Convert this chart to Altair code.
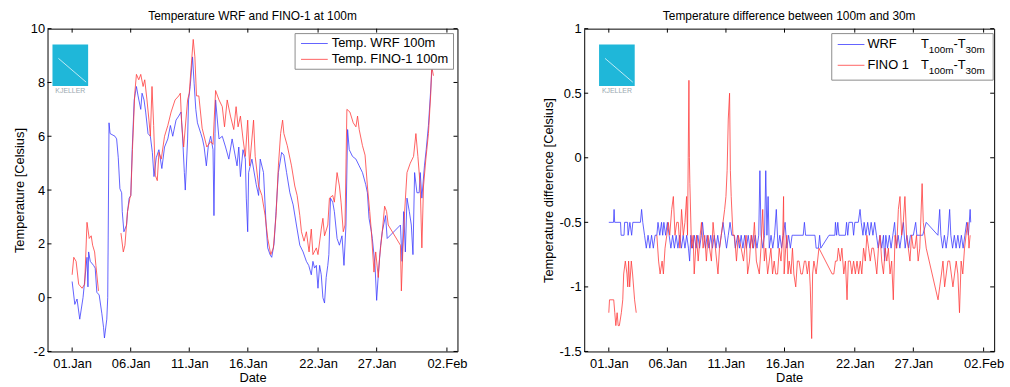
import altair as alt
import pandas as pd

# ---------------- tick values / labels ----------------
x_tick_days = [0, 5, 10, 15, 21, 26, 32]
x_tick_labels = ["01.Jan", "06.Jan", "11.Jan", "16.Jan", "22.Jan", "27.Jan", "02.Feb"]
left_y_ticks = [-2, 0, 2, 4, 6, 8, 10]
right_y_ticks = [-1.5, -1, -0.5, 0, 0.5, 1]

# ---------------- left panel: temperature at 100 m ----------------
wrf_t_day = [0.00, 0.23, 0.42, 0.65, 0.93, 1.27, 1.35, 1.41, 1.55, 1.83, 1.97, 2.11, 2.31, 2.54, 2.68, 2.76,
             2.96, 3.04, 3.15, 3.24, 3.66, 3.80, 3.94, 4.08, 4.23, 4.28, 4.42, 4.65, 4.73, 4.87, 5.01, 5.13,
             5.30, 5.49, 5.63, 5.86, 5.97, 6.14, 6.28, 6.48, 6.68, 6.85, 6.99, 7.18, 7.41, 7.66, 7.89, 8.17,
             8.39, 8.59, 8.87, 9.10, 9.30, 9.44, 9.58, 9.66, 9.86, 9.94, 10.08, 10.28, 10.42, 10.56, 10.70,
             10.99, 11.13, 11.27, 11.46, 11.63, 11.83, 12.03, 12.11, 12.20, 12.25, 12.54, 12.82, 13.10, 13.38,
             13.66, 14.08, 14.23, 14.37, 14.59, 14.79, 14.87, 14.99, 15.07, 15.35, 15.72, 15.92, 16.06, 16.34,
             16.56, 16.70, 16.90, 17.04, 17.24, 17.41, 17.61, 17.89, 18.08, 18.31, 18.59, 18.87, 19.15, 19.44,
             19.72, 20.00, 20.20, 20.42, 20.56, 20.70, 20.85, 20.99, 21.13, 21.27, 21.41, 21.55, 21.69, 21.83,
             21.92, 22.06, 22.25, 22.39, 22.62, 22.82, 23.04, 23.21, 23.38, 23.52, 23.66, 23.94, 24.23, 24.51,
             24.79, 25.07, 25.21, 25.35, 25.55, 25.63, 25.86, 26.00, 26.14, 26.34, 26.48, 26.76, 26.90, 28.03,
             28.17, 28.31, 28.45, 28.59, 28.79, 28.96, 29.10, 29.24, 29.44, 29.63, 29.72, 29.86, 30.08, 30.23,
             30.42, 30.56, 30.70, 30.76]
wrf_t_val = [0.6, -0.25, -0.05, -0.8, 0.0, 1.5, 0.4, 1.7, 1.35, 1.2, 1.1, 0.2, 0.1, -0.6, -1.1, -1.5,
             -0.8, 0.0, 6.5, 6.1, 6.0, 5.9, 5.2, 4.05, 3.9, 3.2, 2.45, 2.7, 3.2, 3.7, 3.8, 5.5,
             7.35, 7.85, 7.5, 7.0, 7.6, 7.35, 6.9, 6.1, 6.0, 5.4, 4.5, 5.2, 5.5, 4.8, 5.6, 5.9,
             6.4, 6.0, 6.6, 6.75, 6.9, 5.9, 4.65, 4.0, 5.9, 7.35, 7.85, 8.95, 7.95, 7.0, 6.5,
             6.1, 5.9, 5.6, 4.9, 5.65, 6.0, 5.5, 3.05, 6.1, 7.35, 5.9, 6.0, 5.6, 5.15,
             5.9, 4.9, 5.6, 4.5, 5.5, 5.15, 3.7, 2.45, 4.65, 5.15, 4.2, 3.8, 5.15, 4.65,
             2.7, 1.85, 1.6, 1.5, 2.0, 3.2, 4.65, 5.4, 5.3, 4.65, 3.9, 3.45, 2.7, 1.95,
             1.7, 1.35, 1.2, 0.85, 1.35, 1.1, 1.2, 0.35, 1.2, 0.85, 0.0, -0.2, 0.75, 1.2,
             1.6, 3.7, 3.55, 3.2, 2.2, 1.95, 2.3, 1.2, 2.7, 6.25, 5.5, 5.25, 5.15, 4.9,
             4.65, 4.2, 3.9, 2.95, 2.45, 2.2, 1.2, -0.1, 0.85, 1.95, 2.45, 3.05, 2.2, 2.7,
             1.35, 3.2, 1.7, 3.7, 3.2, 2.7, 1.6, 4.65, 3.9, 3.9, 4.65, 3.7, 4.9, 5.5,
             6.4, 7.35, 8.35, 8.6]

fino_t1_day = [0.00, 0.14, 0.34, 0.56, 0.85, 1.07, 1.27, 1.46, 1.63, 1.75, 1.92, 2.03, 2.25]
fino_t1_val = [0.85, 1.5, 1.35, 0.5, 0.35, 0.5, 2.8, 2.2, 2.3, 1.95, 1.7, 1.2, 0.25]
fino_t2_day = [4.17, 4.37, 4.51, 4.73, 4.93, 5.01, 5.15, 5.35, 5.49, 5.69, 5.86, 6.06, 6.20, 6.39, 6.56,
               6.68, 6.82, 6.96, 7.10, 7.27, 7.41, 7.61, 7.89, 8.17, 8.45, 8.79, 9.10, 9.24, 9.35, 9.52,
               9.86, 10.00, 10.20, 10.34, 10.48, 10.62, 10.82, 11.10, 11.50, 11.83, 12.03, 12.25, 12.54,
               12.82, 13.01, 13.24, 13.52, 13.80, 14.00, 14.17, 14.37, 14.59, 14.79, 14.99, 15.15, 15.49,
               15.63, 15.92, 16.20, 16.48, 16.70, 16.96, 17.18, 17.41, 17.61, 17.80, 17.97, 18.08, 18.37,
               18.73, 19.01, 19.21, 19.44, 19.58, 19.80, 20.00, 20.23, 20.42, 20.56, 20.85, 20.99, 21.27,
               21.41, 21.55, 21.83, 21.97, 22.25, 22.39, 22.62, 22.82, 22.96, 23.15, 23.30, 23.46, 23.72,
               24.00, 24.23, 24.37, 24.51, 24.79, 25.01, 25.21, 25.41, 25.55, 25.77, 25.92, 26.14, 26.25,
               26.48, 26.68, 26.85, 26.99, 28.03, 28.11, 28.23, 28.39, 28.59, 28.87, 29.15, 29.35, 29.52,
               29.72, 29.86, 30.00, 30.20, 30.42, 30.62, 30.70, 30.85]
fino_t2_val = [2.4, 1.7, 1.95, 3.2, 3.7, 3.8, 5.5, 7.6, 8.3, 8.1, 8.3, 7.85, 8.1, 7.35, 6.6,
               6.0, 7.85, 6.4, 4.55, 4.35, 5.4, 5.15, 6.0, 6.4, 6.9, 7.35, 7.5, 7.6, 6.5, 5.6,
               7.35, 7.6, 8.8, 9.6, 8.95, 7.5, 7.5, 6.3, 5.6, 5.8, 5.7, 7.7, 7.35,
               7.1, 6.35, 7.35, 6.75, 6.25, 7.1, 6.35, 6.75, 5.9, 5.25, 6.6, 4.9, 6.6,
               5.25, 4.15, 3.8, 3.05, 2.2, 1.6, 1.85, 3.05, 4.9, 6.1, 6.6, 6.1, 5.65,
               4.9, 4.15, 3.8, 3.05, 2.45, 2.1, 2.45, 1.7, 2.55, 1.6, 1.85, 1.6, 2.55,
               2.95, 2.3, 2.7, 3.7, 3.8, 3.55, 4.65, 4.15, 3.55, 2.45, 2.7, 7.0, 6.9,
               6.5, 6.35, 6.75, 6.25, 5.65, 5.3, 4.15, 3.2, 2.45, 0.95, 1.7, 0.75, 1.5,
               2.45, 3.4, 3.2, 2.7, 1.95, 0.25, 1.7, 3.2, 4.65, 5.0, 5.25, 6.1, 5.25,
               4.15, 1.85, 4.15, 5.15, 6.1, 7.6, 8.6, 8.25]

# ---------------- right panel: T100m - T30m ----------------
wrf_d_day = [0.0, 0.4, 0.45, 0.5, 1.0, 1.05, 1.3, 1.35, 1.6, 1.65, 1.8, 1.95, 2.05, 2.7, 2.8, 2.9, 3.05,
             3.2, 3.35, 3.5, 3.65, 3.8, 3.95, 4.1, 4.2, 4.35, 4.5, 4.6, 4.7, 4.85, 5.0, 5.15, 5.3, 5.45,
             5.6, 5.75, 5.9, 6.05, 6.2, 6.35, 6.5, 6.65, 6.8, 6.9, 7.0, 7.15, 7.3, 7.45, 7.6, 7.75, 7.9,
             8.0, 8.1, 8.25, 8.4, 8.55, 8.7, 8.85, 9.0, 9.15, 9.3, 9.45, 9.6, 9.75, 9.9, 10.05, 10.2,
             10.35, 10.5, 10.7, 10.8, 11.0, 11.15, 11.3, 11.45, 11.6, 11.75, 11.9, 12.05, 12.2, 12.35,
             12.5, 12.65, 12.8, 12.9, 13.0, 13.15, 13.3, 13.4, 13.5, 13.6, 13.7, 13.85, 14.0, 14.15,
             14.3, 14.45, 14.6, 14.75, 14.9, 15.05, 15.2, 15.35, 15.5, 15.65, 15.8, 16.6, 16.7, 16.8,
             17.6, 17.7, 17.9, 18.0, 18.1, 18.8, 19.3, 19.35, 19.45, 19.55, 19.65, 20.2, 20.3, 20.4,
             20.5, 20.8, 20.9, 21.0, 21.3, 21.45, 21.55, 21.7, 21.8, 21.95, 22.1, 22.25, 22.4, 22.55,
             22.7, 22.85, 23.0, 23.15, 23.3, 23.45, 23.55, 23.65, 23.8, 23.95, 24.1, 24.25, 24.4,
             24.55, 24.7, 24.85, 25.0, 25.15, 25.3, 25.45, 25.6, 25.75, 26.0, 26.2, 26.3, 26.8, 27.1,
             28.1, 28.25, 28.35, 28.5, 28.65, 28.8, 28.95, 29.1, 29.2, 29.35, 29.5, 29.65, 29.8, 29.95,
             30.1, 30.25, 30.4, 30.55, 30.7, 30.85, 30.9]
wrf_d_val = [-0.5, -0.5, -0.4, -0.5, -0.5, -0.6, -0.6, -0.5, -0.5, -0.6, -0.5, -0.6, -0.5, -0.5, -0.4, -0.5, -0.6,
             -0.7, -0.6, -0.7, -0.6, -0.7, -0.6, -0.6, -0.5, -0.6, -0.5, -0.6, -0.5, -0.6, -0.5, -0.6, -0.7, -0.6,
             -0.7, -0.6, -0.7, -0.6, -0.7, -0.6, -0.7, -0.6, -0.7, -0.8, -0.6, -0.7, -0.6, -0.7, -0.6, -0.7, -0.6,
             -0.5, -0.6, -0.7, -0.6, -0.7, -0.6, -0.7, -0.6, -0.7, -0.6, -0.7, -0.6, -0.5, -0.6, -0.7, -0.6,
             -0.5, -0.6, -0.6, -0.7, -0.6, -0.7, -0.6, -0.7, -0.6, -0.7, -0.6, -0.7, -0.6, -0.7,
             -0.6, -0.7, -0.6, -0.1, -0.6, -0.7, -0.6, -0.1, -0.6, -0.3, -0.7, -0.6, -0.7, -0.6,
             -0.4, -0.7, -0.6, -0.7, -0.6, -0.5, -0.7, -0.6, -0.7, -0.6, -0.6, -0.6, -0.5, -0.6,
             -0.6, -0.7, -0.7, -0.6, -0.7, -0.6, -0.6, -0.5, -0.6, -0.5, -0.6, -0.6, -0.5, -0.6,
             -0.5, -0.5, -0.6, -0.5, -0.5, -0.4, -0.5, -0.6, -0.5, -0.6, -0.5, -0.6, -0.5, -0.6,
             -0.5, -0.6, -0.7, -0.6, -0.7, -0.6, -0.8, -0.6, -0.7, -0.6, -0.7, -0.6, -0.5,
             -0.7, -0.6, -0.7, -0.6, -0.5, -0.7, -0.6, -0.7, -0.6, -0.6, -0.5, -0.6, -0.6, -0.5,
             -0.6, -0.4, -0.6, -0.7, -0.6, -0.7, -0.6, -0.4, -0.6, -0.7, -0.6, -0.7, -0.6, -0.7,
             -0.6, -0.7, -0.6, -0.5, -0.6, -0.4, -0.5]

fino_d1_day = [0.00, 0.06, 0.42, 0.51, 0.60, 0.71, 0.80, 0.90, 1.07, 1.19, 1.27, 1.41, 1.55, 1.62, 1.69,
               1.78, 1.92, 2.03, 2.20, 2.34]
fino_d1_val = [-1.2, -1.1, -1.1, -1.2, -1.3, -1.2, -1.3, -1.3, -1.2, -1.1, -0.9, -0.8, -0.9, -1.0, -0.8,
               -1.0, -0.8, -0.9, -1.1, -1.2]
fino_d2_day = [4.10, 4.25, 4.38, 4.55, 4.66, 4.80, 4.95, 5.08, 5.20, 5.37, 5.51, 5.65, 5.80, 5.93, 6.07,
               6.21, 6.36, 6.50, 6.64, 6.72, 6.78, 6.84, 6.88, 6.92, 7.06, 7.20, 7.29, 7.49, 7.63, 7.80,
               7.91, 8.05, 8.19, 8.33, 8.47, 8.60, 8.76, 8.90, 9.10, 9.32, 9.45, 9.60, 9.75, 9.89, 10.00,
               10.10, 10.20, 10.31, 10.38, 10.45, 10.60, 10.73, 10.90, 11.05, 11.30, 11.50, 11.72, 11.85,
               12.01, 12.15, 12.29, 12.43, 12.60, 12.85, 12.99, 13.14, 13.28, 13.40, 13.56, 13.70, 13.84,
               13.98, 14.12, 14.25, 14.41, 14.55, 14.70, 14.85, 14.92, 14.97, 15.10, 15.20, 15.30, 15.40,
               15.55, 15.68, 15.80, 15.96, 16.10, 16.24, 16.40, 16.53, 16.70, 16.81, 16.95, 17.09, 17.20,
               17.32, 17.40, 17.51, 17.70, 17.94, 19.07, 19.21, 19.35, 19.49, 19.60, 19.77, 19.90, 20.06,
               20.20, 20.34, 20.45, 20.62, 20.75, 20.90, 21.05, 21.19, 21.33, 21.47, 21.60, 21.75, 21.90,
               22.03, 22.18, 22.32, 22.46, 22.60, 22.75, 22.88, 23.02, 23.16, 23.30, 23.45, 23.60, 23.73,
               23.87, 24.01, 24.15, 24.29, 24.44, 24.58, 24.72, 24.86, 25.00, 25.14, 25.28, 25.42, 25.57,
               25.71, 25.85, 25.99, 26.13, 26.27, 26.41, 26.55, 26.75, 26.85, 27.10, 28.11, 28.25, 28.40,
               28.53, 28.67, 28.81, 28.95, 29.10, 29.24, 29.38, 29.52, 29.66, 29.80, 29.94, 30.08, 30.22,
               30.37, 30.50, 30.65, 30.75, 30.85]
fino_d2_val = [-0.6, -0.8, -0.9, -0.8, -0.9, -0.7, -0.6, -0.5, -0.6, -0.4, -0.3, -0.6, -0.5, -0.5, -0.7,
               -0.4, -0.6, -0.5, -0.3, -0.6, 0.0, 0.6, 0.0, -0.2, -0.7, -0.6, -0.9, -0.6, -0.8, -0.6,
               -0.5, -0.7, -0.6, -0.8, -0.6, -0.7, -0.8, -0.5, -0.7, -0.9, -0.7, -0.6, -0.5, -0.4, -0.3,
               -0.1, 0.3, 0.5, -0.1, -0.3, -0.6, -0.6, -0.8, -0.6, -0.7, -0.8, -0.6, -0.9,
               -0.8, -0.6, -0.7, -0.5, -0.8, -0.9, -0.7, -0.4, -0.8, -0.7, -0.9, -0.8, -0.7,
               -0.9, -0.8, -0.9, -0.9, -0.7, -0.8, -0.6, -0.3, -0.9, -0.7, -0.6, -0.9, -0.8,
               -0.9, -0.7, -0.9, -1.0, -0.8, -0.8, -0.9, -0.9, -0.8, -0.8, -0.9, -0.8, -1.0,
               -1.4, -0.9, -0.8, -0.9, -0.7, -0.9, -0.9, -0.8, -0.8, -0.7, -0.8, -0.7, -0.9,
               -0.8, -1.1, -0.8, -0.8, -0.9, -0.8, -0.9, -0.8, -0.9, -0.8, -0.9, -0.7, -0.8,
               -0.6, -0.7, -0.8, -0.7, -0.7, -0.8, -0.9, -0.7, -0.6, -0.8, -0.9, -0.7, -0.8,
               -0.7, -0.9, -0.8, -1.1, -0.6, -0.7, -0.4, -0.3, -0.6, -0.5, -0.3, -0.6, -0.7,
               -0.8, -0.6, -0.7, -0.7, -0.6, -0.8, -0.7, -0.2, -0.5, -0.7, -1.1, -1.0, -0.9,
               -0.8, -1.0, -0.9, -0.8, -0.8, -0.9, -1.0, -0.9, -0.8, -0.9, -1.2, -0.8, -0.9,
               -0.7, -0.6, -0.5, -0.7, -0.6]

BLUE = "#3a3aff"
RED = "#ff3a3a"
W, H = 414, 326
FONT = "Liberation Sans"


def frame(parts):
    rows = []
    for series, seg, days, vals in parts:
        for d, v in zip(days, vals):
            rows.append({"day": d, "value": v, "series": series, "seg": seg})
    return pd.DataFrame(rows)


left_df = frame([
    ("WRF", "w", wrf_t_day, wrf_t_val),
    ("FINO", "f1", fino_t1_day, fino_t1_val),
    ("FINO", "f2", fino_t2_day, fino_t2_val),
])
right_df = frame([
    ("WRF", "w", wrf_d_day, wrf_d_val),
    ("FINO", "f1", fino_d1_day, fino_d1_val),
    ("FINO", "f2", fino_d2_day, fino_d2_val),
])

label_expr = " : ".join(
    f"datum.value == {d} ? '{l}'" for d, l in zip(x_tick_days, x_tick_labels)
) + " : ''"

one = pd.DataFrame({"k": [0]})


def txt(s, x, y, size=13, color="black", align="left", dy=0):
    return alt.Chart(one).mark_text(
        text=s, fontSize=size, font=FONT, color=color, align=align, baseline="middle", dy=dy
    ).encode(x=alt.value(x), y=alt.value(y))


def panel(df, ydomain, yticks, ytitle, title, legend_parts, logo_x):
    xs = alt.Scale(domain=[-2.1, 32.9], nice=False, zero=False)
    ys = alt.Scale(domain=ydomain, nice=False, zero=False)
    xaxis = alt.Axis(values=x_tick_days, labelExpr=label_expr, title="Date", tickSize=0,
                     domain=False, grid=False, labelPadding=6, titlePadding=1)
    yaxis = alt.Axis(values=yticks, labelExpr="datum.value + ''", title=ytitle, tickSize=0,
                     domain=False, grid=False, labelPadding=3, titlePadding=4)
    X = alt.X("day:Q", scale=xs, axis=xaxis)
    Y = alt.Y("value:Q", scale=ys, axis=yaxis)

    lines = alt.Chart(df).mark_line(strokeWidth=0.8).encode(
        x=X, y=Y,
        color=alt.Color("series:N", scale=alt.Scale(domain=["WRF", "FINO"], range=[BLUE, RED]), legend=None),
        detail="seg:N",
    )
    xt = pd.DataFrame({"day": x_tick_days})
    yt = pd.DataFrame({"value": yticks})
    ticks = [
        alt.Chart(xt).mark_rule(color="black").encode(x=X, y=alt.value(H), y2=alt.value(H - 4)),
        alt.Chart(xt).mark_rule(color="black").encode(x=X, y=alt.value(0), y2=alt.value(4)),
        alt.Chart(yt).mark_rule(color="black").encode(y=Y, x=alt.value(0), x2=alt.value(4)),
        alt.Chart(yt).mark_rule(color="black").encode(y=Y, x=alt.value(W - 4), x2=alt.value(W)),
    ]
    logo = [
        alt.Chart(one).mark_rect(color="#1fb7d9").encode(
            x=alt.value(logo_x), x2=alt.value(logo_x + 36), y=alt.value(16), y2=alt.value(58)),
        alt.Chart(one).mark_rule(color="#bfeaf4", strokeWidth=1).encode(
            x=alt.value(logo_x + 6), x2=alt.value(logo_x + 34), y=alt.value(30), y2=alt.value(54)),
        txt("KJELLER", logo_x + 18, 63, size=7, color="#9aa9b0", align="center"),
    ]
    return alt.layer(lines, *ticks, *logo, *legend_parts).properties(
        width=W, height=H,
        title=alt.Title(title, fontSize=12, fontWeight="normal", font=FONT, offset=0, color="black"),
    )


def legend_box(x1, x2, y1, y2):
    return alt.Chart(one).mark_rect(fill="white", stroke="#8c8c8c", strokeWidth=1).encode(
        x=alt.value(x1), x2=alt.value(x2), y=alt.value(y1), y2=alt.value(y2))


def legend_line(x1, x2, y, color):
    return alt.Chart(one).mark_rule(color=color, strokeWidth=0.8).encode(
        x=alt.value(x1), x2=alt.value(x2), y=alt.value(y))


left_legend = [
    legend_box(250, 410, 5, 41),
    legend_line(256, 283, 15, BLUE),
    txt("Temp. WRF 100m", 287, 15),
    legend_line(256, 283, 31, RED),
    txt("Temp. FINO-1 100m", 287, 31),
]

right_legend = [legend_box(250, 413, 5, 52)]
for row_y, name, col in [(16, "WRF", BLUE), (37, "FINO 1", RED)]:
    right_legend += [
        legend_line(256, 283, row_y, col),
        txt(name, 286, row_y),
        txt("T", 340, row_y),
        txt("100m", 348, row_y, size=10, dy=6),
        txt("-T", 373, row_y),
        txt("30m", 385, row_y, size=10, dy=6),
    ]

left = panel(left_df, [-2, 10], left_y_ticks, "Temperature [Celsius]",
             "Temperature WRF and FINO-1 at 100m", left_legend, 5)
right = panel(right_df, [-1.5, 1], right_y_ticks, "Temperature difference [Celsius]",
              "Temperature difference between 100m and 30m", right_legend, 15)

chart = alt.hconcat(left, right, spacing=128, bounds="flush").properties(
    padding={"left": 13, "top": 7, "right": 5, "bottom": 5},
    background="white",
).configure_view(
    stroke="black", strokeWidth=1
).configure_axis(
    labelFont=FONT, titleFont=FONT, labelFontSize=13, titleFontSize=13,
    labelColor="black", titleColor="black", titleFontWeight="normal",
)

chart.save("out.html", embed_options={"renderer": "svg", "actions": False})
